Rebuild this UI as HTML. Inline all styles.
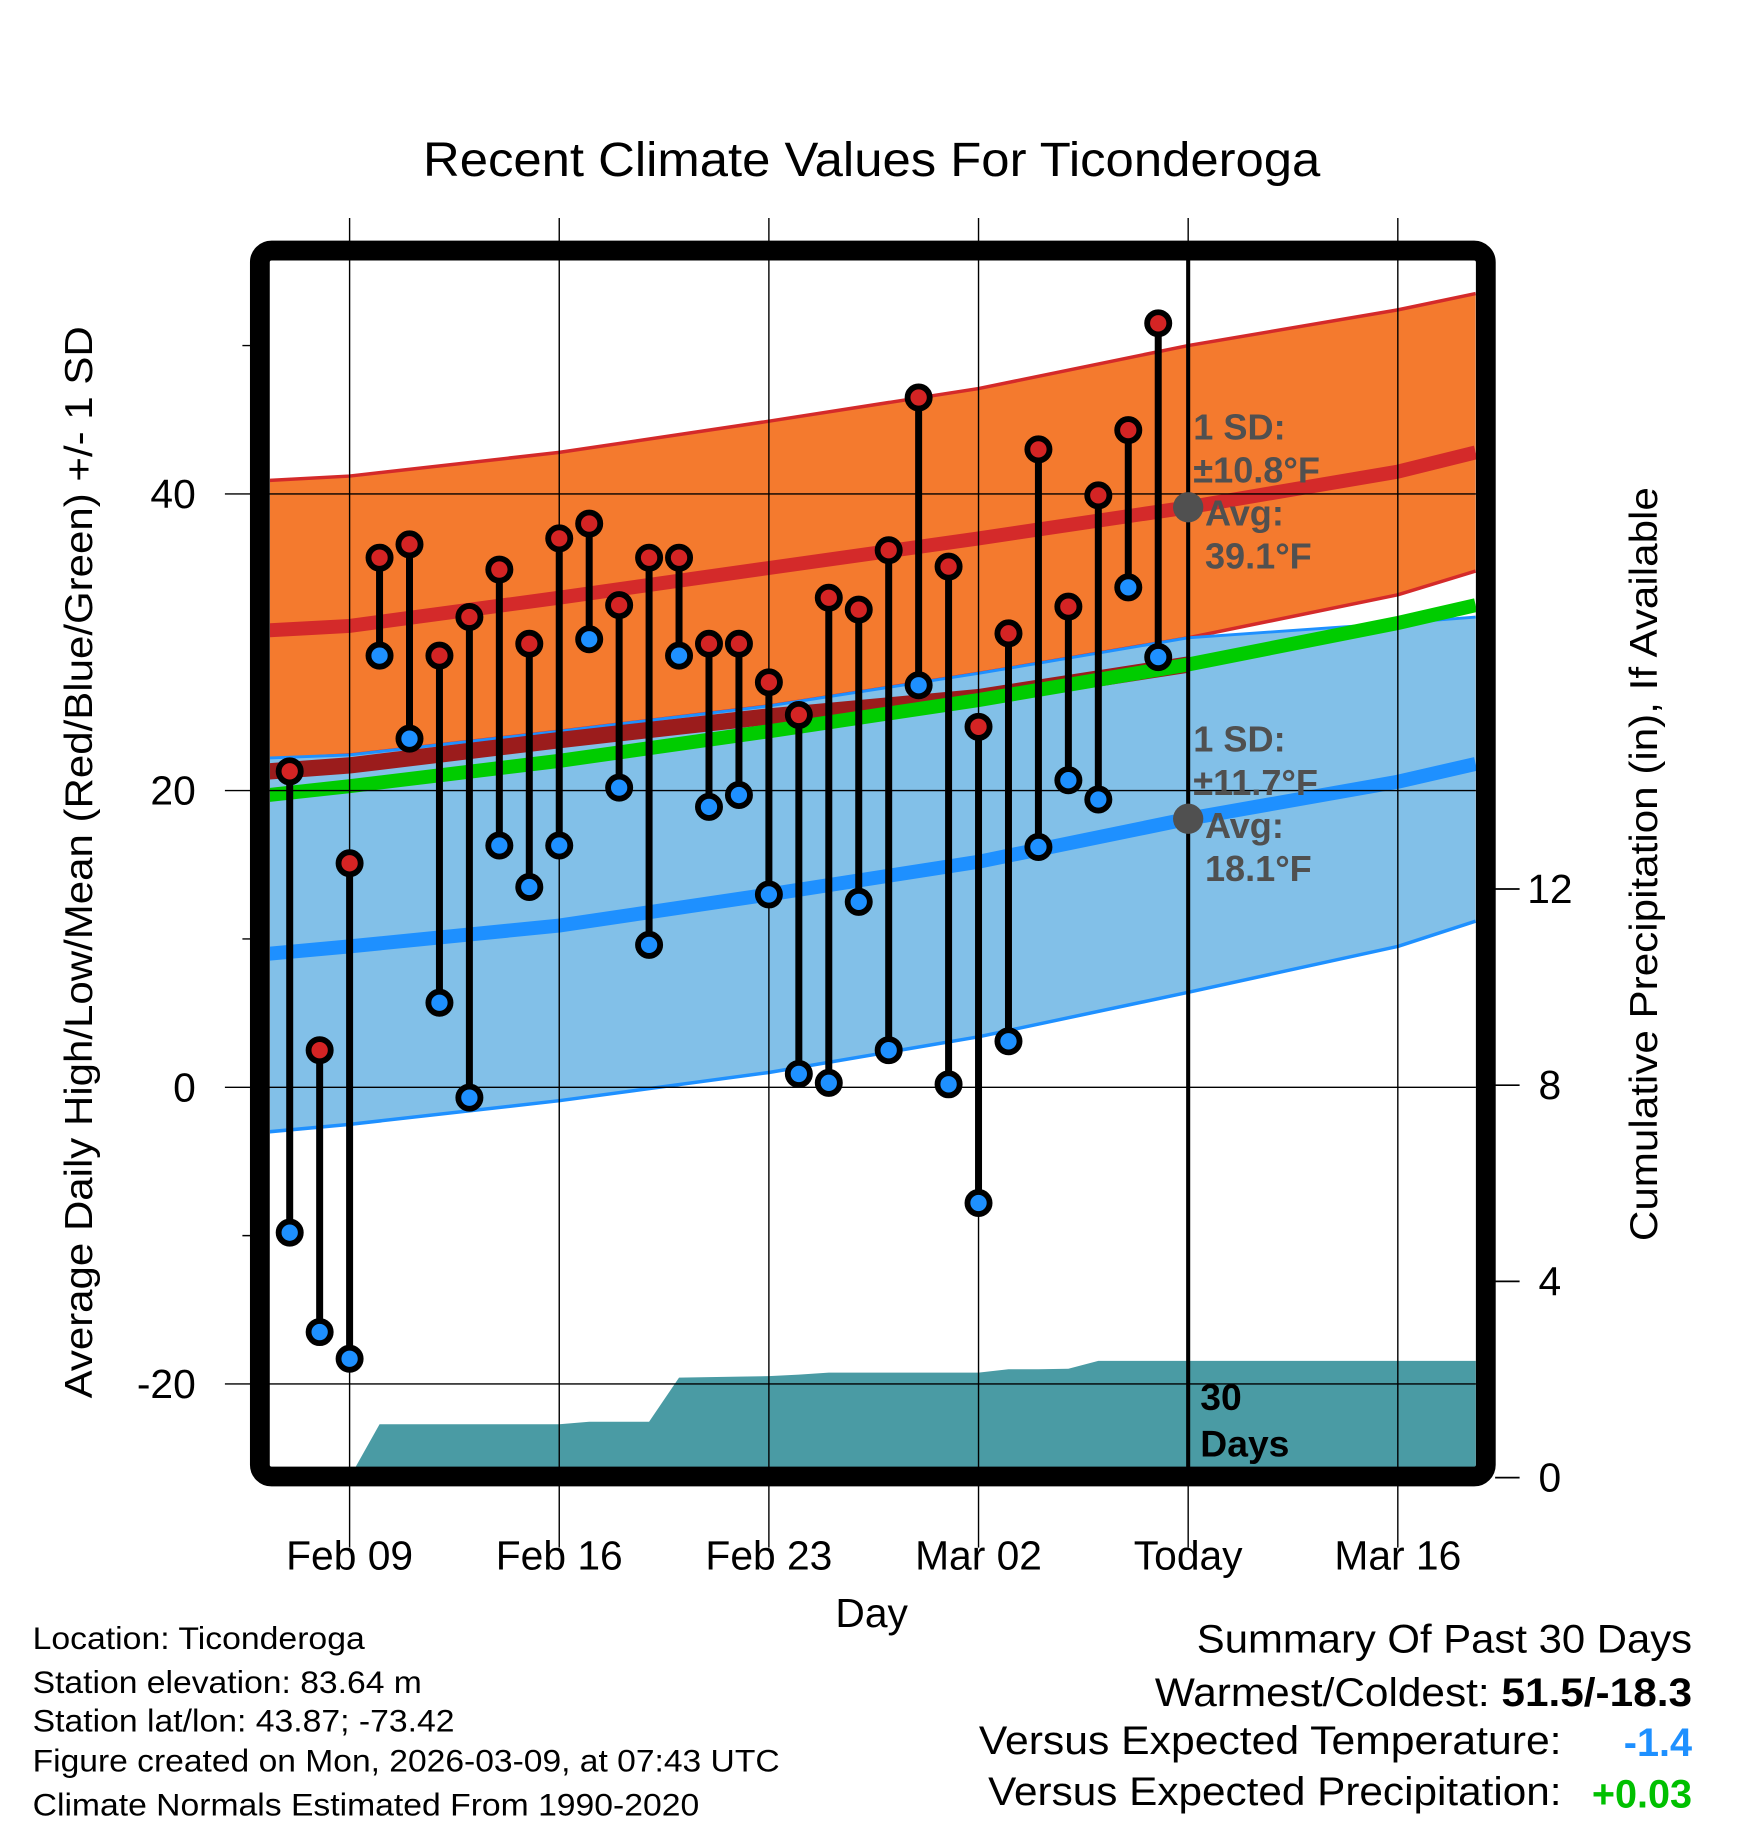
<!DOCTYPE html>
<html><head><meta charset="utf-8"><style>
html,body{margin:0;padding:0;background:#fff;}
svg{display:block;font-family:"Liberation Sans",Arial,sans-serif;}
</style></head><body>
<svg id="chart" width="1748" height="1828" viewBox="0 0 1500 1568.6" xmlns="http://www.w3.org/2000/svg">
<g id="bands"></g>
<g id="grid"></g>
<g id="marks"></g>
<g id="labels"></g>
<rect x="223" y="215" width="1052" height="1052" rx="10" fill="none" stroke="#000" stroke-width="17"/>
<text x="363" y="151" font-size="41" textLength="770" lengthAdjust="spacingAndGlyphs">Recent Climate Values For Ticonderoga</text>
<text transform="translate(79,1200) rotate(-90)" font-size="33" textLength="920" lengthAdjust="spacingAndGlyphs">Average Daily High/Low/Mean (Red/Blue/Green) +/- 1 SD</text>
<text transform="translate(1422,1065) rotate(-90)" font-size="33" textLength="647" lengthAdjust="spacingAndGlyphs">Cumulative Precipitation (in), If Available</text>
<text x="748" y="1396" font-size="35" text-anchor="middle">Day</text>
<g font-size="27" lengthAdjust="spacingAndGlyphs">
<text x="28" y="1415" textLength="285" lengthAdjust="spacingAndGlyphs">Location: Ticonderoga</text>
<text x="28" y="1453" textLength="334" lengthAdjust="spacingAndGlyphs">Station elevation: 83.64 m</text>
<text x="28" y="1486" textLength="362" lengthAdjust="spacingAndGlyphs">Station lat/lon: 43.87; -73.42</text>
<text x="28" y="1520" textLength="641" lengthAdjust="spacingAndGlyphs">Figure created on Mon, 2026-03-09, at 07:43 UTC</text>
<text x="28" y="1558" textLength="572" lengthAdjust="spacingAndGlyphs">Climate Normals Estimated From 1990-2020</text>
</g>
<g font-size="34">
<text x="1027" y="1418" textLength="425" lengthAdjust="spacingAndGlyphs">Summary Of Past 30 Days</text>
<text x="991" y="1464" textLength="461" lengthAdjust="spacingAndGlyphs">Warmest/Coldest: <tspan font-weight="bold">51.5/-18.3</tspan></text>
<text x="840" y="1505" textLength="500" lengthAdjust="spacingAndGlyphs">Versus Expected Temperature:</text>
<text x="1452" y="1507" fill="#1e90ff" font-weight="bold" text-anchor="end">-1.4</text>
<text x="848" y="1549" textLength="492" lengthAdjust="spacingAndGlyphs">Versus Expected Precipitation:</text>
<text x="1452" y="1551" fill="#00c000" font-weight="bold" text-anchor="end">+0.03</text>
</g>
</svg>
<script>
// data
const days = ["Feb 07","Feb 08","Feb 09","Feb 10","Feb 11","Feb 12","Feb 13","Feb 14","Feb 15","Feb 16","Feb 17","Feb 18","Feb 19","Feb 20","Feb 21","Feb 22","Feb 23","Feb 24","Feb 25","Feb 26","Feb 27","Feb 28","Mar 01","Mar 02","Mar 03","Mar 04","Mar 05","Mar 06","Mar 07","Mar 08"];
const highs = [21.3,2.5,15.1,35.7,36.6,29.1,31.7,34.9,29.9,37.0,38.0,32.5,35.7,35.7,29.9,29.9,27.3,25.1,33.0,32.2,36.2,46.5,35.1,24.3,30.6,43.0,32.4,39.9,44.3,51.5];
const lows = [-9.8,-16.5,-18.3,29.1,23.5,5.7,-0.7,16.3,13.5,16.3,30.2,20.2,9.6,29.1,18.9,19.7,13.0,0.9,0.3,12.5,2.5,27.1,0.2,-7.8,3.1,16.2,20.7,19.4,33.7,29.0];
const precipCum = [null,null,0,1.09,1.09,1.09,1.09,1.09,1.09,1.09,1.14,1.14,1.14,2.04,2.05,2.06,2.07,2.10,2.14,2.14,2.14,2.14,2.14,2.14,2.21,2.21,2.22,2.38,2.38,2.38];
const normDays = [-2.7,0,7,14,21,28,35,37.6]; // days after Feb 09
const highAvg = [30.8,31.1,33.0,35.0,37.0,39.1,41.5,42.8];
const highUpper = [40.9,41.2,42.8,44.9,47.1,50.0,52.4,53.5];
const highLower = [22.1,22.4,24.0,25.7,27.9,30.3,33.2,34.8];
const lowUpper = [22.2,22.4,24.0,25.7,27.9,30.3,31.3,31.7];
const lowAvg = [9.0,9.5,10.9,13.0,15.2,18.1,20.6,21.8];
const lowLower = [-3.0,-2.5,-0.9,1.0,3.4,6.4,9.5,11.2];
const meanNorm = [19.7,20.3,22.0,24.0,26.1,28.5,31.3,32.5];
const obsMean = [21.3,21.7,23.4,25.0,26.3,28.5];
const obsMeanDays = [-2.7,0,7,14,21,28];
const xTickLabels = ["Feb 09","Feb 16","Feb 23","Mar 02","Today","Mar 16"];
const xTickDays = [0,7,14,21,28,35];
const yTicks = [-20,0,20,40];
const yMinor = [-10,10,50];
const pTicks = [0,4,8,12];

const NS="http://www.w3.org/2000/svg";
const X=d=>300+d*25.7;
const Y=t=>933-t*12.73;
const PY=p=>1268-p*42.1;
const L=231.7,R=1266.5,T=223,B=1259;
function mk(tag,attrs,parent){const e=document.createElementNS(NS,tag);for(const k in attrs)e.setAttribute(k,attrs[k]);parent.appendChild(e);return e;}
const bands=document.getElementById('bands'),grid=document.getElementById('grid'),marks=document.getElementById('marks'),labels=document.getElementById('labels');
function pts(arr,dArr){return arr.map((v,i)=>X(dArr[i]).toFixed(1)+','+Y(v).toFixed(1));}
const defs=mk('defs',{},bands);
const cp=mk('clipPath',{id:'pc'},defs);mk('rect',{x:L,y:T,width:R-L,height:B-T},cp);
bands.setAttribute('clip-path','url(#pc)');marks.setAttribute('clip-path','url(#pc)');
let e=mk('polygon',{points:pts(highUpper,normDays).concat(pts(highLower,normDays).reverse()).join(' '),fill:'#f47a2e'},bands);


e=mk('polyline',{points:pts(highUpper,normDays).join(' '),fill:'none',stroke:'#d42a2a','stroke-width':3},bands);


e=mk('polyline',{points:pts(highLower,normDays).join(' '),fill:'none',stroke:'#d42a2a','stroke-width':3},bands);


e=mk('polygon',{points:pts(lowUpper,normDays).concat(pts(lowLower,normDays).reverse()).join(' '),fill:'#82c0e8'},bands);


e=mk('polyline',{points:pts(lowUpper,normDays).join(' '),fill:'none',stroke:'#1e90ff','stroke-width':2.5},bands);


e=mk('polyline',{points:pts(lowLower,normDays).join(' '),fill:'none',stroke:'#1e90ff','stroke-width':3},bands);


e=mk('polyline',{points:pts(obsMean,obsMeanDays).join(' '),fill:'none',stroke:'#9b1c1c','stroke-width':14},bands);


e=mk('polyline',{points:pts(meanNorm,normDays).join(' '),fill:'none',stroke:'#00cc00','stroke-width':12},bands);


e=mk('polyline',{points:pts(highAvg,normDays).join(' '),fill:'none',stroke:'#d42a2a','stroke-width':12},bands);


e=mk('polyline',{points:pts(lowAvg,normDays).join(' '),fill:'none',stroke:'#1e90ff','stroke-width':12},bands);


let pp=[];let started=false;
precipCum.forEach((v,i)=>{if(v===null)return;const d=i-2;if(!started){pp.push(X(d)+','+B);started=true;}pp.push(X(d)+','+PY(v));});
const lastP=precipCum[precipCum.length-1];
pp.push(R+','+PY(lastP));pp.push(R+','+B);
e=mk('polygon',{points:pp.join(' '),fill:'#4a9ba4'},bands);


xTickDays.forEach((d,i)=>{
  const g=mk('line',{x1:X(d),x2:X(d),y1:187,y2:1328,stroke:'#000','stroke-width':1.2},grid);
  
  
  const t=mk('text',{x:X(d),y:1347,'font-size':35,'text-anchor':'middle'},labels);t.textContent=xTickLabels[i];
  
  
});
yTicks.forEach(v=>{
  const g=mk('line',{x1:193,x2:R,y1:Y(v),y2:Y(v),stroke:'#000','stroke-width':1.2},grid);
  
  
  const t=mk('text',{x:168,y:Y(v)+12,'font-size':35,'text-anchor':'end'},labels);t.textContent=v;
  
  
});
yMinor.forEach(v=>{const g=mk('line',{x1:208,x2:222,y1:Y(v),y2:Y(v),stroke:'#000','stroke-width':1.2},grid);
  
  });
pTicks.forEach(v=>{
  const g=mk('line',{x1:1283,x2:1304,y1:PY(v),y2:PY(v),stroke:'#000','stroke-width':1.5},grid);
  
  
  const t=mk('text',{x:1330,y:PY(v)+12,'font-size':35,'text-anchor':'middle'},labels);t.textContent=v;
  
  
});
e=mk('line',{x1:X(28),x2:X(28),y1:187,y2:B,stroke:'#000','stroke-width':3.5},marks);


days.forEach((dn,i)=>{
  const x=X(i-2);
  const s=mk('line',{x1:x,x2:x,y1:Y(highs[i]),y2:Y(lows[i]),stroke:'#000','stroke-width':6},marks);
  
  
});
days.forEach((dn,i)=>{
  const x=X(i-2);
  const h=mk('circle',{cx:x,cy:Y(highs[i]),r:9.5,fill:'#d42424',stroke:'#000','stroke-width':5},marks);
  
  
  const l=mk('circle',{cx:x,cy:Y(lows[i]),r:9.5,fill:'#1e90ff',stroke:'#000','stroke-width':5},marks);
  
  
});
const tx=X(28);
e=mk('circle',{cx:tx,cy:Y(highAvg[5]),r:13,fill:'#505050'},marks);


e=mk('circle',{cx:tx,cy:Y(lowAvg[5]),r:13,fill:'#505050'},marks);


function ann(lines,y0,name){
  const g=mk('g',{'font-size':31,'font-weight':'bold',fill:'#505050'},labels);
  
  
  lines.forEach((ln,k)=>{const t=mk('text',{x:k<2?1024:1034,y:y0+k*37},g);t.textContent=ln;});
}
ann(["1 SD:","\u00b110.8\u00b0F","Avg:","39.1\u00b0F"],377,'high-annotation');
ann(["1 SD:","\u00b111.7\u00b0F","Avg:","18.1\u00b0F"],645,'low-annotation');
const g30=mk('g',{'font-size':32,'font-weight':'bold',fill:'#000'},labels);


let t1=mk('text',{x:1030,y:1210},g30);t1.textContent='30';
let t2=mk('text',{x:1030,y:1250},g30);t2.textContent='Days';
</script>
</body></html>
